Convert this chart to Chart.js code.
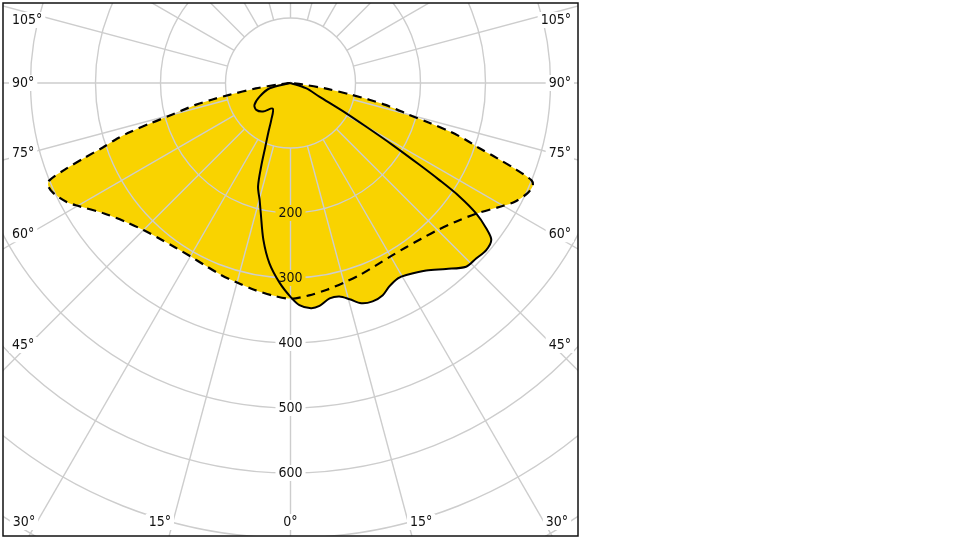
<!DOCTYPE html>
<html>
<head>
<meta charset="utf-8">
<style>
  html, body { margin: 0; background: #fff; }
  #wrap { width: 960px; height: 540px; }
</style>
<script src="https://cdn.jsdelivr.net/npm/chart.js@4.4.1/dist/chart.umd.min.js"></script>
</head>
<body>
<div id="wrap"><canvas id="chart" width="960" height="540"></canvas></div>
<script>
// C0-C180 plane (dashed), angle from nadir in degrees -> cd
const dashAngles = [-90, -85, -83, -81, -79, -78, -77, -76, -75, -74, -73, -72, -71, -70, -69, -68, -67, -65, -62, -60, -55, -50, -45, -40, -35, -30, -25, -20, -15, -10, -5, 0,
  5, 10, 15, 20, 25, 30, 35, 40, 45, 50, 55, 60, 62, 65, 67, 68, 69, 70, 71, 72, 73, 74, 75, 76, 77, 78, 79, 81, 83, 85, 90];
const dashValues = [0, 4, 18, 54, 96, 124, 150, 168, 188, 222, 258, 284, 306, 338, 372, 400, 405, 402, 390, 378, 350, 332, 320, 313, 309, 308, 310, 314, 318, 323, 328, 332,
  328, 323, 318, 314, 310, 308, 309, 313, 320, 332, 350, 378, 390, 402, 405, 400, 372, 338, 306, 284, 258, 222, 188, 168, 150, 124, 96, 54, 18, 4, 0];

// C90-C270 plane (solid)
const solidAngles = [-90, -75.8, -66.2, -58.6, -51.8, -44, -34.6, -27.5, -24.2, -21.4, -19.5, -17.4, -14.8, -12.9, -9.8, -6.7, -3.1, 0,
  2.3, 5.2, 7.4, 10.3, 12.9, 15.3, 17.8, 20.6, 23.5, 25.9, 28.8, 31.1, 35.9, 39.9, 43.7, 46.6, 49.5, 52, 53.4, 54.9, 56.1, 56.9, 57.6, 58.7, 60, 61.5, 64.7, 71.3, 90];
const solidValues = [0, 33, 52, 65, 67, 61, 48, 64, 83, 107, 134, 167, 186, 205, 245, 279, 308, 329,
  342, 348, 346, 337, 337, 345, 356, 359, 356, 348, 343, 345, 356, 373, 391, 393, 396, 392, 375, 349, 313, 273, 235, 184, 134, 97, 49, 25, 0];

const ringValues = [100, 200, 300, 400, 500, 600, 700, 800, 900, 1000];
const ringLabels = [200, 300, 400, 500, 600];
const sideTicks = [45, 60, 75, 90, 105];
const bottomTicks = [0, 15, 30];

const YELLOW = '#F9D300';
const GRID = '#cdcdcd';
const FONT = '14px "DejaVu Sans Condensed", "DejaVu Sans", sans-serif';

function toXY(angles, values) {
  return angles.map((a, i) => {
    const t = a * Math.PI / 180;
    return { x: values[i] * Math.sin(t), y: -values[i] * Math.cos(t) };
  });
}

// where the text labels go (they also cut gaps in the grid)
function labelList(chart) {
  const a = chart.chartArea;
  const sx = chart.scales.x, sy = chart.scales.y;
  const cx = sx.getPixelForValue(0), cy = sy.getPixelForValue(0);
  const list = [];
  sideTicks.forEach(t => {
    let yy = cy + 262 / Math.tan(t * Math.PI / 180);
    yy = Math.max(yy, a.top + 17);
    list.push({ text: t + '°', x: a.left + 9, y: yy, align: 'left' });
    list.push({ text: t + '°', x: a.right - 7, y: yy, align: 'right' });
  });
  bottomTicks.forEach(t => {
    const yy = a.bottom - 14;
    const d = (yy - cy) * Math.tan(t * Math.PI / 180) + (t ? 13 : 0);
    list.push({ text: t + '°', x: cx - d, y: yy, align: 'center' });
    if (t) list.push({ text: t + '°', x: cx + d, y: yy, align: 'center' });
  });
  ringLabels.forEach(v => {
    list.push({ text: String(v), x: cx, y: sy.getPixelForValue(-v), align: 'center' });
  });
  return list;
}

const polarGrid = {
  id: 'polarGrid',
  beforeDatasetsDraw(chart) {
    const { ctx, chartArea: a, scales: { x: sx, y: sy } } = chart;
    const cx = sx.getPixelForValue(0), cy = sy.getPixelForValue(0);
    ctx.save();
    ctx.beginPath();
    ctx.rect(a.left, a.top, a.width, a.height);
    ctx.clip();

    // yellow area = union of both planes
    ctx.fillStyle = YELLOW;
    chart.data.datasets.forEach((ds, i) => {
      const line = chart.getDatasetMeta(i).dataset;
      line.updateControlPoints(a, 'x');
      ctx.beginPath();
      line.path(ctx);
      ctx.closePath();
      ctx.fill();
    });

    // grid, with gaps behind labels
    ctx.font = FONT;
    ctx.beginPath();
    ctx.rect(a.left, a.top, a.width, a.height);
    labelList(chart).forEach(l => {
      const w = ctx.measureText(l.text).width;
      let x0 = l.x - w / 2;
      if (l.align === 'left') x0 = l.x;
      if (l.align === 'right') x0 = l.x - w;
      ctx.rect(x0 - 3, l.y - 8, w + 6, 16);
    });
    ctx.clip('evenodd');

    ctx.strokeStyle = GRID;
    ctx.lineWidth = 1.4;
    ringValues.forEach(v => {
      const r = sx.getPixelForValue(v) - cx;
      ctx.beginPath();
      ctx.arc(cx, cy, r, 0, Math.PI * 2);
      ctx.stroke();
    });
    for (let t = 0; t < 360; t += 15) {
      const rad = t * Math.PI / 180;
      const r0 = ringValues[0], r1 = ringValues[ringValues.length - 1];
      ctx.beginPath();
      ctx.moveTo(sx.getPixelForValue(r0 * Math.sin(rad)), sy.getPixelForValue(-r0 * Math.cos(rad)));
      ctx.lineTo(sx.getPixelForValue(r1 * Math.sin(rad)), sy.getPixelForValue(-r1 * Math.cos(rad)));
      ctx.stroke();
    }
    ctx.restore();
  },
  afterDatasetsDraw(chart) {
    const { ctx, chartArea: a } = chart;
    ctx.save();
    ctx.font = FONT;
    ctx.fillStyle = '#111';
    ctx.textBaseline = 'middle';
    labelList(chart).forEach(l => {
      ctx.textAlign = l.align;
      ctx.fillText(l.text, l.x, l.y);
    });
    ctx.strokeStyle = '#111';
    ctx.lineWidth = 1.5;
    ctx.strokeRect(a.left, a.top, a.width, a.height);
    ctx.restore();
  }
};

new Chart(document.getElementById('chart').getContext('2d'), {
  type: 'scatter',
  data: {
    datasets: [
      {
        data: toXY(solidAngles, solidValues),
        showLine: true,
        borderColor: '#000',
        borderWidth: 2,
        pointRadius: 0,
        tension: 0.3,
        fill: false
      },
      {
        data: toXY(dashAngles, dashValues),
        showLine: true,
        borderColor: '#000',
        borderWidth: 2.2,
        borderDash: [9, 6],
        pointRadius: 0,
        tension: 0.3,
        fill: false
      }
    ]
  },
  options: {
    responsive: false,
    animation: false,
    layout: { padding: { left: 3, top: 3, right: 382, bottom: 4 } },
    scales: {
      x: { type: 'linear', display: false, min: -442.3, max: 442.3 },
      y: { type: 'linear', display: false, min: -697, max: 123 }
    },
    plugins: {
      legend: { display: false },
      tooltip: { enabled: false }
    }
  },
  plugins: [polarGrid]
});
</script>
</body>
</html>
